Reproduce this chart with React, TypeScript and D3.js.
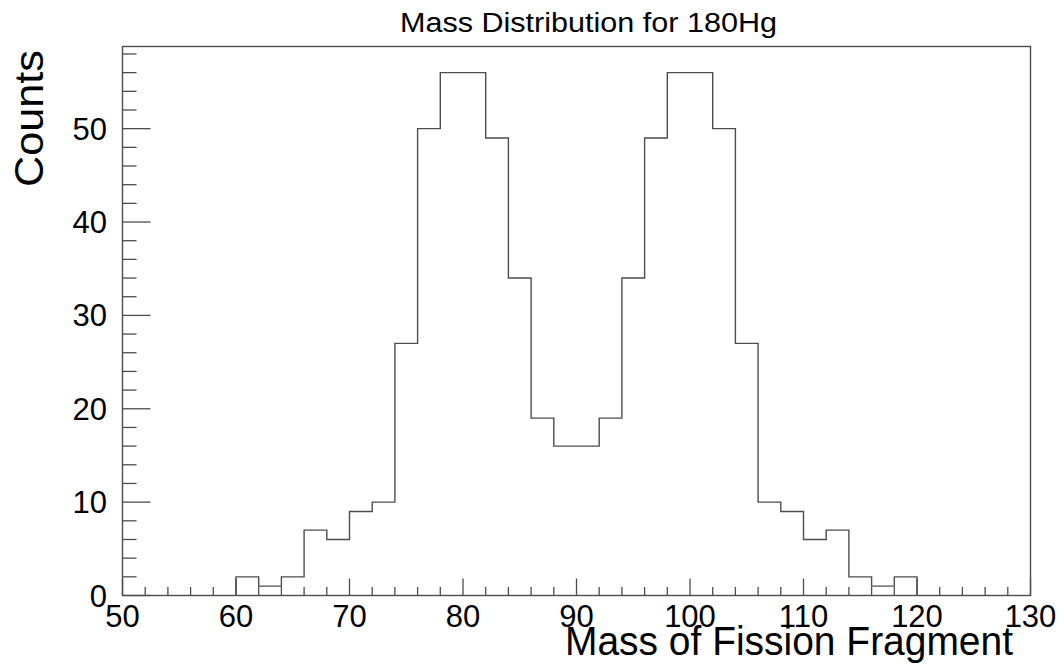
import React from "react";
import * as d3 from "d3";

const binEdgesStart = [60, 62, 64, 66, 68, 70, 72, 74, 76, 78, 80, 82, 84, 86, 88, 90, 92, 94, 96, 98, 100, 102, 104, 106, 108, 110, 112, 114, 116, 118];
const binWidth = 2;
const counts = [2, 1, 2, 7, 6, 9, 10, 27, 50, 56, 56, 49, 34, 19, 16, 16, 19, 34, 49, 56, 56, 50, 27, 10, 9, 6, 7, 2, 1, 2];
const xTicks = [50, 60, 70, 80, 90, 100, 110, 120, 130];
const yTicks = [0, 10, 20, 30, 40, 50];
const title = "Mass Distribution for 180Hg";
const xTitle = "Mass of Fission Fragment";
const yTitle = "Counts";

const W = 1064, H = 664;
const L = 122.5, R = 1030.5, T = 46.5, B = 595.5;
const FONT = "'Liberation Sans', Arial, Helvetica, sans-serif";
const LINE = "#4d4d4d";

export default function App() {
  const x = d3.scaleLinear().domain([50, 130]).range([L, R]);
  const yMax = d3.max(counts)! * 1.05;
  const y = d3.scaleLinear().domain([0, yMax]).range([B, T]);

  const pts: [number, number][] = [];
  binEdgesStart.forEach((s, i) => {
    const v = counts[i];
    if (i === 0) pts.push([x(s), y(0)]);
    pts.push([x(s), y(v)]);
    pts.push([x(s + binWidth), y(v)]);
  });
  pts.push([x(binEdgesStart[binEdgesStart.length - 1] + binWidth), y(0)]);
  const path = d3.line()(pts) || "";

  const xMinor = d3.range(50, 130.001, 2);
  const yMinor = d3.range(0, yMax, 2);

  return (
    <svg width={W} height={H} style={{ position: "absolute", left: 0, top: 0, background: "#fff" }}>
      <rect x={0} y={0} width={W} height={H} fill="#fff" />
      <text x={400} y={32} fontFamily={FONT} fontSize={27} fill="#000" textLength={377} lengthAdjust="spacingAndGlyphs">{title}</text>

      {xMinor.map((v) => {
        const major = Math.abs(v % 10) < 1e-6;
        return <line key={"xt" + v} x1={x(v)} x2={x(v)} y1={B} y2={B - (major ? 17 : 8.5)} stroke={LINE} strokeWidth={1.3} />;
      })}
      {yMinor.map((v) => {
        const major = Math.abs(v % 10) < 1e-6;
        return <line key={"yt" + v} x1={L} x2={L + (major ? 28 : 14)} y1={y(v)} y2={y(v)} stroke={LINE} strokeWidth={1.3} />;
      })}

      <path d={path} fill="none" stroke={LINE} strokeWidth={1.4} />
      <rect x={L} y={T} width={R - L} height={B - T} fill="none" stroke={LINE} strokeWidth={1.4} />

      {xTicks.map((v) => (
        <text key={"xl" + v} x={x(v)} y={627} textAnchor="middle" fontFamily={FONT} fontSize={31} fill="#000">{v}</text>
      ))}
      {yTicks.map((v) => (
        <text key={"yl" + v} x={107} y={y(v) + 11} textAnchor="end" fontFamily={FONT} fontSize={31} fill="#000">{v}</text>
      ))}

      <text x={1013} y={655} textAnchor="end" fontFamily={FONT} fontSize={40} fill="#000" textLength={448} lengthAdjust="spacingAndGlyphs">{xTitle}</text>
      <text transform={`translate(43,50) rotate(-90)`} textAnchor="end" fontFamily={FONT} fontSize={40} fill="#000" textLength={137} lengthAdjust="spacingAndGlyphs">{yTitle}</text>
    </svg>
  );
}
